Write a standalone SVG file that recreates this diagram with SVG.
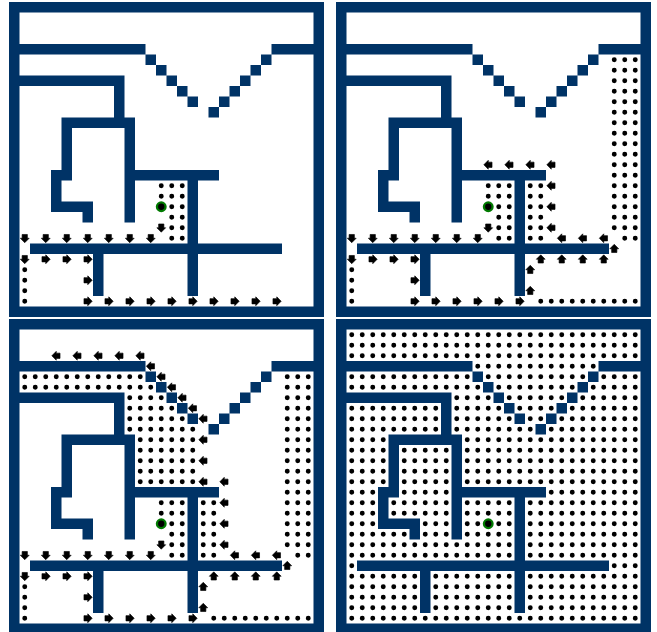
<svg xmlns="http://www.w3.org/2000/svg" width="657" height="632" viewBox="0 0 657 632">
<style>
.w{fill:#003366}
.a{fill:#000;stroke:#000;stroke-width:.06;stroke-linejoin:round}
.p{fill:none;stroke:#000;stroke-width:.47;stroke-linecap:round;stroke-dasharray:0 1}
.g{fill:#000;stroke:#007a00;stroke-width:.22}
</style>
<defs>
<path id="walls" class="w" d="M0 0h30v1h-30zM0 29h30v1h-30zM0 0h1v30h-1zM29 0h1v30h-1zM0 4h13v1h-13zM13 5h1v1h-1zM14 6h1v1h-1zM15 7h1v1h-1zM16 8h1v1h-1zM17 9h1v1h-1zM19 10h1v1h-1zM20 9h1v1h-1zM21 8h1v1h-1zM22 7h1v1h-1zM23 6h1v1h-1zM24 5h1v1h-1zM25 4h5v1h-5zM0 7h11v1h-11zM10 7h1v4h-1zM5 11h7v1h-7zM5 11h1v6h-1zM4 16h2v1h-2zM4 16h1v4h-1zM4 19h4v1h-4zM7 19h1v2h-1zM11 11h1v10h-1zM11 16h9v1h-9zM17 16h1v12h-1zM2 23h24v1h-24zM8 23h1v5h-1z"/>
<polygon id="r" class="a" points="-.36,-.25 0,-.25 0,-.42 .42,0 0,.42 0,.25 -.36,.25"/>
<g id="d"><use href="#r" transform="rotate(90)"/></g>
<g id="l"><use href="#r" transform="rotate(180)"/></g>
<g id="u"><use href="#r" transform="rotate(-90)"/></g>
<circle id="goal" class="g" cx="14.5" cy="19.5" r=".41"/>
<g id="s1">
<path class="p" d="M14.5 17.5H16.6M14.5 18.5H16.6M15.5 19.5H16.6M15.5 20.5H16.6M15.5 21.5H16.6M15.5 22.5H16.6M1.5 25.5V28.6"/>
<use href="#d" x="14.5" y="21.5"/>
<use href="#d" x="1.5" y="22.5"/><use href="#d" x="3.5" y="22.5"/><use href="#d" x="5.5" y="22.5"/><use href="#d" x="7.5" y="22.5"/><use href="#d" x="9.5" y="22.5"/><use href="#d" x="11.5" y="22.5"/><use href="#d" x="13.5" y="22.5"/>
<use href="#d" x="1.5" y="24.5"/><use href="#r" x="3.5" y="24.5"/><use href="#r" x="5.5" y="24.5"/><use href="#r" x="7.5" y="24.5"/>
<use href="#r" x="7.5" y="26.5"/>
<use href="#r" x="7.5" y="28.5"/><use href="#r" x="9.5" y="28.5"/><use href="#r" x="11.5" y="28.5"/><use href="#r" x="13.5" y="28.5"/><use href="#r" x="15.5" y="28.5"/><use href="#r" x="17.5" y="28.5"/>
</g>
<g id="s2">
<path class="p" d="M26.5 5.5V21.6M27.5 5.5V22.6M28.5 5.5V22.6M18.5 17.5V22.6M19.5 17.5V22.6M19.5 28.5H28.6"/>
<use href="#l" x="20.5" y="15.5"/><use href="#l" x="20.5" y="17.5"/><use href="#l" x="20.5" y="19.5"/><use href="#l" x="20.5" y="21.5"/>
<use href="#l" x="21.5" y="22.5"/><use href="#l" x="23.5" y="22.5"/><use href="#l" x="25.5" y="22.5"/>
<use href="#u" x="26.5" y="23.5"/>
<use href="#u" x="19.5" y="24.5"/><use href="#u" x="21.5" y="24.5"/><use href="#u" x="23.5" y="24.5"/><use href="#u" x="25.5" y="24.5"/>
<use href="#u" x="18.5" y="25.5"/><use href="#u" x="18.5" y="27.5"/>
</g>
</defs>
<rect width="657" height="632" fill="#fff"/>
<g id="panel-a" transform="translate(9 2) scale(10.5)">
<use href="#walls"/><use href="#goal"/><use href="#s1"/>
<use href="#r" x="19.5" y="28.5"/><use href="#r" x="21.5" y="28.5"/><use href="#r" x="23.5" y="28.5"/><use href="#r" x="25.5" y="28.5"/>
</g>
<g id="panel-b" transform="translate(336 2) scale(10.5)">
<use href="#walls"/><use href="#goal"/><use href="#s1"/><use href="#s2"/>
<use href="#l" x="14.5" y="15.5"/><use href="#l" x="16.5" y="15.5"/><use href="#l" x="18.5" y="15.5"/>
</g>
<g id="panel-c" transform="translate(9 319) scale(10.5)">
<use href="#walls"/><use href="#goal"/><use href="#s1"/><use href="#s2"/>
<path class="p" d="M1.5 5.5H12.6M1.5 6.5H13.6M11.5 7.5H14.6M11.5 8.5H15.6M11.5 9.5H16.6M11.5 10.5H17.6M12.5 11.5H17.6M12.5 12.5H17.6M12.5 13.5H17.6M12.5 14.5H17.6M12.5 15.5H17.6"/>
<use href="#l" x="4.5" y="3.5"/><use href="#l" x="6.5" y="3.5"/><use href="#l" x="8.5" y="3.5"/><use href="#l" x="10.5" y="3.5"/><use href="#l" x="12.5" y="3.5"/>
<use href="#l" x="13.5" y="4.5"/><use href="#l" x="14.5" y="5.5"/><use href="#l" x="15.5" y="6.5"/><use href="#l" x="16.5" y="7.5"/><use href="#l" x="17.5" y="8.5"/><use href="#l" x="18.5" y="9.5"/>
<use href="#l" x="18.5" y="11.5"/><use href="#l" x="18.5" y="13.5"/><use href="#l" x="18.5" y="15.5"/>
</g>
<g id="panel-d" transform="translate(336 319) scale(10.5)">
<use href="#walls"/><use href="#goal"/>
<path class="p" d="M1.5 1.5H28.6M1.5 2.5H28.6M1.5 3.5H28.6M13.5 4.5H24.6M1.5 5.5H12.6M14.5 5.5H23.6M25.5 5.5H28.6M1.5 6.5H13.6M15.5 6.5H22.6M24.5 6.5H28.6M11.5 7.5H14.6M16.5 7.5H21.6M23.5 7.5H28.6M1.5 8.5H9.6M11.5 8.5H15.6M17.5 8.5H20.6M22.5 8.5H28.6M1.5 9.5H9.6M11.5 9.5H16.6M18.5 9.5H19.6M21.5 9.5H28.6M1.5 10.5H9.6M11.5 10.5H18.6M20.5 10.5H28.6M1.5 11.5H4.6M12.5 11.5H28.6M1.5 12.5H4.6M6.5 12.5H10.6M12.5 12.5H28.6M1.5 13.5H4.6M6.5 13.5H10.6M12.5 13.5H28.6M1.5 14.5H4.6M6.5 14.5H10.6M12.5 14.5H28.6M1.5 15.5H4.6M6.5 15.5H10.6M12.5 15.5H28.6M1.5 16.5H3.6M6.5 16.5H10.6M20.5 16.5H28.6M1.5 17.5H3.6M5.5 17.5H10.6M12.5 17.5H16.6M18.5 17.5H28.6M1.5 18.5H3.6M5.5 18.5H10.6M12.5 18.5H16.6M18.5 18.5H28.6M1.5 19.5H3.6M8.5 19.5H10.6M12.5 19.5H16.6M18.5 19.5H28.6M1.5 20.5H6.6M8.5 20.5H10.6M12.5 20.5H16.6M18.5 20.5H28.6M1.5 21.5H16.6M18.5 21.5H28.6M1.5 22.5H16.6M18.5 22.5H28.6M1.5 23.5H1.6M26.5 23.5H28.6M1.5 24.5H7.6M9.5 24.5H16.6M18.5 24.5H28.6M1.5 25.5H7.6M9.5 25.5H16.6M18.5 25.5H28.6M1.5 26.5H7.6M9.5 26.5H16.6M18.5 26.5H28.6M1.5 27.5H7.6M9.5 27.5H16.6M18.5 27.5H28.6M1.5 28.5H28.6"/>
</g>
</svg>
